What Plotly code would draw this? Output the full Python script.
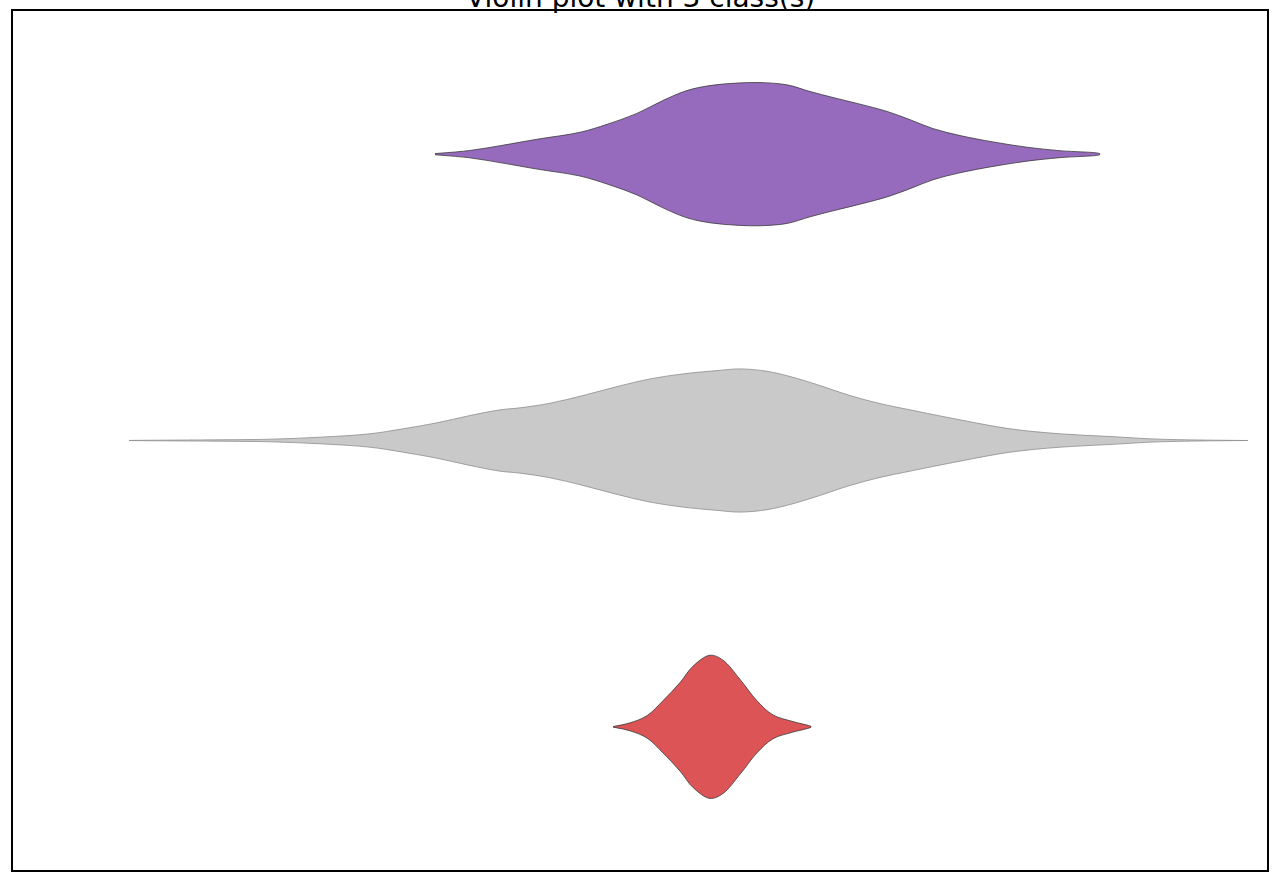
import plotly.graph_objects as go

# Class names (bottom to top) and their positions on the category axis
classes = ["class 0", "class 1", "class 2"]
class_pos = [0, 1, 2]

# Density profiles: value grid and relative density (peak = 1)
red_x = [47.85, 49.20, 50.56, 51.83, 53.19, 54.23, 55.58, 56.62, 57.97, 59.33, 60.61, 62.20, 63.64]
red_d = [0.3, 4, 11.3, 26.3, 44.7, 61.3, 72.3, 67.3, 48, 26.3, 12, 5.3, 0.3]

grey_x = [9.25, 16.51, 20.49, 24.48, 28.47, 31.10, 33.81, 36.44, 38.84, 40.43, 42.82, 45.45,
          48.17, 50.80, 53.43, 56.14, 57.97, 60.13, 62.20, 64.11, 66.75, 69.14, 71.53,
          75.52, 79.51, 83.49, 87.48, 91.47, 98.48]
grey_d = [0, 0.7, 1.3, 3.3, 6.7, 11.7, 17.7, 25, 30.7, 32.7, 37.3, 45,
          54, 61.7, 66.7, 70, 71.7, 69.3, 63.3, 56, 45, 37, 30.7,
          20.7, 11.7, 6.7, 4, 1.3, 0]

purple_x = [33.65, 36.44, 39.07, 41.79, 45.22, 47.37, 49.76, 51.83, 53.75, 55.58, 57.73, 59.57,
            61.72, 63.56, 65.39, 67.54, 69.70, 71.53, 73.37, 75.52, 78.15, 80.86, 83.49, 86.68]
purple_d = [0.6, 3.7, 9, 15, 22, 30, 41, 54, 64, 69, 71.5, 72,
            69.7, 63, 57, 50.3, 43, 34.7, 25.7, 18.7, 12.3, 7, 3.5, 0.4]

profiles_x = [red_x, grey_x, purple_x]
profiles_d = [red_d, grey_d, purple_d]
fill_colors = ["#dc5455", "#c9c9c9", "#966bbd"]
edge_colors = ["#3a3a3a", "#8e8e8e", "#3a3a3a"]

half_width = 0.25  # violin half width in category units

fig = go.Figure()
for name, pos, xs, ds, fc, ec in zip(classes, class_pos, profiles_x, profiles_d, fill_colors, edge_colors):
    peak = max(ds)
    upper = [pos + half_width * d / peak for d in ds]
    lower = [pos - half_width * d / peak for d in ds]
    fig.add_trace(go.Scatter(
        x=xs + xs[::-1],
        y=upper + lower[::-1],
        mode="lines",
        fill="toself",
        fillcolor=fc,
        line=dict(color=ec, width=0.8, shape="spline", smoothing=1.0),
        name=name,
        showlegend=False,
        hoverinfo="skip",
    ))

axis_style = dict(showticklabels=False, showgrid=False, zeroline=False, ticks="",
                  showline=True, mirror=True, linecolor="black", linewidth=1.5)

fig.update_layout(
    width=1280, height=880,
    margin=dict(l=13, r=13, t=9, b=10),
    paper_bgcolor="white", plot_bgcolor="white",
    font=dict(family="DejaVu Sans", color="black"),
    xaxis=dict(range=[0, 100], **axis_style),
    yaxis=dict(range=[-0.5, 2.5], **axis_style),
    annotations=[dict(text="Violin plot with 3 class(s)", xref="paper", yref="paper",
                      x=0.5, y=1, xanchor="center", yanchor="bottom", yshift=-5,
                      showarrow=False, font=dict(size=28, family="DejaVu Sans", color="black"))],
)

fig.write_html("out.html", config={"displayModeBar": False},
               post_script="document.body.style.margin='0';")
